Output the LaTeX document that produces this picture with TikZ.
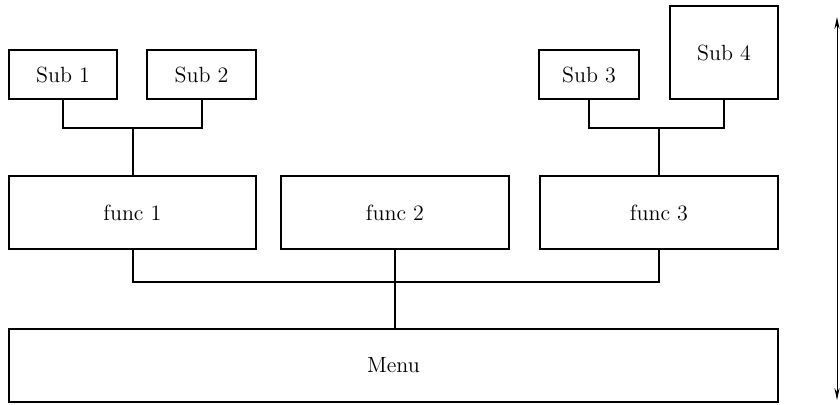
\documentclass[tikz,border=0pt]{standalone}
\usepackage{tikz}
\usetikzlibrary{arrows.meta}

\begin{document}
\begin{tikzpicture}[x=0.5pt,y=-0.5pt,line width=1pt,font=\fontsize{11}{13}\selectfont,
  box/.style={draw,line width=1.1pt,inner sep=0pt,anchor=center}]
  \useasboundingbox (0,0) rectangle (840,404);
  \node[box,minimum width=54pt,minimum height=24.5pt] (sub1) at (63,74.5) {Sub 1};
  \node[box,minimum width=54.5pt,minimum height=24.5pt] (sub2) at (201.5,74.5) {Sub 2};
  \node[box,minimum width=50pt,minimum height=24.5pt] (sub3) at (589,74.5) {Sub 3};
  \node[box,minimum width=54pt,minimum height=46.5pt] (sub4) at (724,52.5) {Sub 4};
  \node[box,minimum width=123.5pt,minimum height=36.5pt] (func1) at (132.5,212.5) {func 1};
  \node[box,minimum width=114pt,minimum height=36.5pt] (func2) at (395,212.5) {func 2};
  \node[box,minimum width=119pt,minimum height=36.5pt] (func3) at (659,212.5) {func 3};
  \node[box,minimum width=384.5pt,minimum height=36.5pt] (menu) at (393.5,365.5) {Menu};
  \coordinate (j1) at (132.5,128);
  \coordinate (j2) at (659,128);
  \coordinate (j3) at (395,282);
  \coordinate (up) at (837,17);
  \coordinate (down) at (837,400);
  \draw (sub1.south) |- (j1) -| (sub2.south);
  \draw (j1) -- (func1.north);
  \draw (sub3.south) |- (j2) -| (sub4.south);
  \draw (j2) -- (func3.north);
  \draw (func1.south) |- (j3) -| (func3.south);
  \draw (func2.south) -- (func2.south |- menu.north);
  \draw[{Stealth[length=6pt,width=2.6pt]}-{Stealth[length=6pt,width=2.6pt]},line width=0.5pt] (up) -- (down);
\end{tikzpicture}
\end{document}
